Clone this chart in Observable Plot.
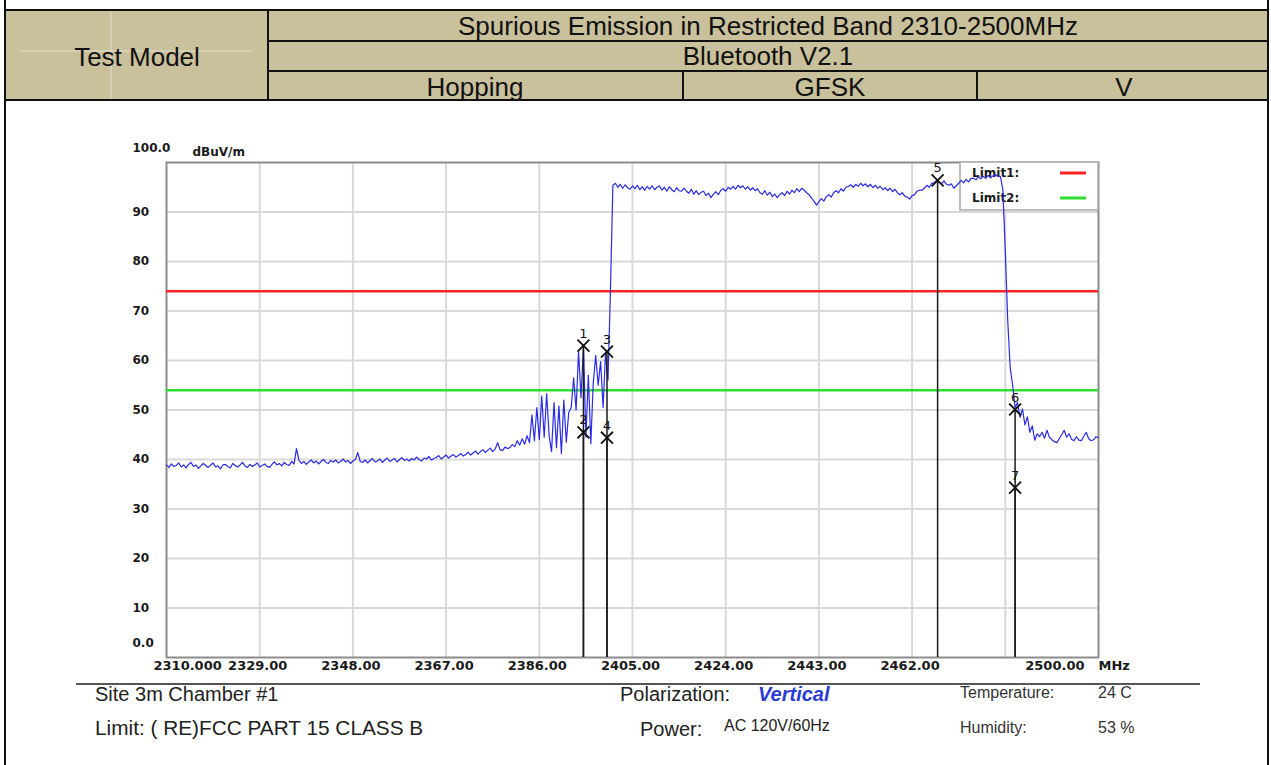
<!DOCTYPE html>
<html><head><meta charset="utf-8">
<script src="https://cdn.jsdelivr.net/npm/d3@7"></script>
<script src="https://cdn.jsdelivr.net/npm/@observablehq/plot@0.6"></script>
<style>
html,body{margin:0;padding:0;background:#fff;overflow:hidden}
#page{position:relative;width:1271px;height:765px}
#header,#caption{display:block}
#chart svg{display:block}
#borders{position:absolute;left:0;top:0;pointer-events:none}
.hd{font-family:"Liberation Sans",Arial,sans-serif;font-size:26px;fill:#111}
.cap{font-family:"Liberation Sans",Arial,sans-serif;fill:#222}
</style></head><body>
<div id="page">
<svg id="header" width="1271" height="101">
  <rect x="5" y="10" width="1263" height="91" fill="#c9c09c"/>
  <line x1="111" y1="11" x2="111" y2="100" stroke="#e4dfca" stroke-width="1"/>
  <line x1="20" y1="51" x2="253" y2="51" stroke="#e4dfca" stroke-width="1"/>
  <g stroke="#111" stroke-width="2">
    <line x1="4" y1="10" x2="1269" y2="10"/>
    <line x1="268" y1="41" x2="1268" y2="41"/>
    <line x1="268" y1="71" x2="1268" y2="71"/>
    <line x1="4" y1="100" x2="1269" y2="100"/>
    <line x1="268" y1="10" x2="268" y2="101"/>
    <line x1="683" y1="71" x2="683" y2="101"/>
    <line x1="977" y1="71" x2="977" y2="101"/>
  </g>
  <text class="hd" x="137" y="66" text-anchor="middle">Test Model</text>
  <text class="hd" x="768" y="35" text-anchor="middle">Spurious Emission in Restricted Band 2310-2500MHz</text>
  <text class="hd" x="768" y="65" text-anchor="middle">Bluetooth V2.1</text>
  <text class="hd" x="475" y="96" text-anchor="middle">Hopping</text>
  <text class="hd" x="830" y="96" text-anchor="middle">GFSK</text>
  <text class="hd" x="1124" y="96" text-anchor="middle">V</text>
</svg>
<div id="chart"></div>
<svg id="caption" width="1271" height="82">
  <line x1="76" y1="1" x2="1200" y2="1" stroke="#555" stroke-width="2"/>
  <text class="cap" x="95" y="18" font-size="20">Site  3m Chamber #1</text>
  <text class="cap" x="95" y="52" font-size="20.8">Limit: ( RE)FCC PART 15 CLASS B</text>
  <text class="cap" x="620" y="18" font-size="20">Polarization:</text>
  <text class="cap" x="758" y="18" font-size="20" font-weight="bold" font-style="italic" style="fill:#2a3bd6">Vertical</text>
  <text class="cap" x="640" y="53" font-size="20">Power:</text>
  <text class="cap" x="724" y="48" font-size="16">AC 120V/60Hz</text>
  <text class="cap" x="960" y="15" font-size="16" style="fill:#333">Temperature:</text>
  <text class="cap" x="1098" y="15" font-size="16" style="fill:#333">24 C</text>
  <text class="cap" x="960" y="50" font-size="16" style="fill:#333">Humidity:</text>
  <text class="cap" x="1098" y="50" font-size="16" style="fill:#333">53 %</text>
</svg>
<svg id="borders" width="1271" height="765">
  <line x1="5" y1="0" x2="5" y2="765" stroke="#111" stroke-width="2"/>
  <line x1="1268" y1="0" x2="1268" y2="765" stroke="#111" stroke-width="2"/>
</svg>
</div>
<script>
// ---- data ----
const sweepStart = 2310;     // MHz
const sweepStep = 0.5;       // MHz per trace point
const traceLevels = [
  38.9, 38.4, 39.1, 38.6, 38.8, 39.3, 38.5, 38.9, 38.3, 39.0,
  39.4, 38.6, 38.9, 38.2, 38.7, 39.2, 38.8, 38.4, 38.9, 39.3,
  38.5, 38.7, 38.1, 38.9, 39.0, 38.6, 38.3, 39.2, 38.8, 38.5,
  38.9, 39.4, 38.7, 38.4, 39.0, 38.6, 38.9, 39.3, 38.5, 38.8,
  39.1, 38.6, 38.4, 39.0, 39.5, 38.9, 39.2, 38.7, 39.4, 39.0,
  38.8, 39.6, 39.1, 42.2, 39.8, 39.2, 39.6, 39.0, 39.5, 39.9,
  39.3, 39.7, 39.1, 39.6, 40.0, 39.4, 39.2, 39.8, 39.5, 39.9,
  39.3, 39.6, 40.1, 39.5, 39.8, 39.2, 39.7, 40.0, 41.4, 39.6,
  39.4, 39.9, 39.3, 39.8, 40.2, 39.5, 39.7, 40.1, 39.4, 39.9,
  40.3, 39.6, 39.9, 40.2, 39.5, 40.0, 40.4, 39.8, 40.1, 39.7,
  40.2, 39.9, 40.5, 40.0, 39.7, 40.3, 40.1, 40.6, 39.9, 40.2,
  40.4, 40.8, 40.1, 40.5, 40.9, 40.3, 40.7, 41.0, 40.5, 40.8,
  41.2, 40.7, 41.0, 41.5, 40.9, 41.3, 41.7, 41.1, 41.6, 42.0,
  41.4, 41.9, 42.3, 41.6, 42.1, 43.4, 42.0, 41.8, 42.5, 42.2,
  42.4, 43.0, 42.6, 43.8, 42.9, 44.2, 43.1, 44.8, 43.4, 49.0,
  43.8, 50.5, 44.0, 52.8, 44.5, 53.3, 44.8, 41.6, 51.5, 42.4,
  50.8, 41.2, 52.0, 43.5, 49.5, 50.5, 56.5, 50.0, 61.8, 52.5,
  63.0, 44.5, 57.0, 43.2, 55.5, 61.0, 55.0, 59.8, 50.5, 61.5,
  56.0, 74.0, 95.4, 95.8, 95.0, 95.6, 94.8, 95.5, 94.9, 94.6,
  95.3, 94.7, 95.4, 94.5, 95.1, 94.4, 95.2, 94.6, 95.3, 94.5,
  95.0, 95.3, 94.4, 95.0, 94.2, 95.1, 94.5, 94.1, 94.9, 94.3,
  94.2, 94.8, 94.2, 93.8, 94.6, 93.6, 94.3, 93.5, 94.0, 94.2,
  93.3, 93.8, 92.9, 93.6, 94.1, 93.5, 94.4, 94.7, 94.2, 95.0,
  94.6, 95.2, 94.6, 95.4, 94.9, 95.3, 94.6, 95.1, 94.4, 94.9,
  94.3, 94.7, 93.9, 93.6, 94.3, 93.4, 94.0, 93.1, 93.6, 92.9,
  93.5, 93.9, 93.3, 94.2, 93.6, 94.4, 93.9, 94.7, 94.1, 94.8,
  94.4, 93.9, 93.5, 92.8, 92.2, 91.4, 92.1, 92.7, 92.2, 93.1,
  93.5, 93.0, 93.9, 94.3, 93.9, 94.7, 94.2, 95.0, 95.2, 95.5,
  95.0, 95.6, 95.2, 95.8, 95.3, 95.7, 95.1, 95.6, 94.9, 95.4,
  94.8, 95.2, 94.5, 94.9, 94.3, 94.8, 94.1, 94.6, 93.9, 93.5,
  93.9, 93.2, 93.0, 92.6, 93.3, 93.5, 94.2, 94.4, 94.4, 94.8,
  95.4, 95.0, 95.8, 95.9, 96.4, 96.0, 95.7, 96.3, 95.6, 95.4,
  95.7, 94.8, 95.3, 95.8, 96.4, 95.9, 96.6, 96.1, 96.8, 96.8,
  96.5, 97.1, 96.7, 97.2, 96.8, 97.4, 96.9, 97.3, 97.5, 97.2,
  97.2, 94.5, 82.0, 68.0, 58.5, 55.0, 50.5, 51.5, 48.5, 50.2,
  47.0, 48.6, 45.5, 46.8, 43.9, 45.2, 44.6, 45.5, 44.3, 45.9,
  44.5, 44.0, 43.6, 43.4, 44.2, 45.0, 45.9, 44.5, 45.2, 44.1,
  43.8, 44.6, 43.9, 43.8, 44.7, 45.5, 44.2, 43.8, 44.0, 44.6,
  44.4
];
const markerIds    = ["1", "2", "3", "4", "5", "6", "7"];
const markerFreqs  = [2395.0, 2395.0, 2399.8, 2399.8, 2467.2, 2483.0, 2483.0];
const markerLevels = [63.0, 45.5, 61.8, 44.4, 96.4, 50.1, 34.3];
const limitNames  = ["Limit1:", "Limit2:"];
const limitLevels = [74, 54];
const limitColors = ["#ff2222", "#2fdf2f"];
const xTickValues = [2310, 2329, 2348, 2367, 2386, 2405, 2424, 2443, 2462, 2500];
const xTickLabels = ["2310.000", "2329.00", "2348.00", "2367.00", "2386.00", "2405.00", "2424.00", "2443.00", "2462.00", "2500.00"];
const xGridValues = [2329, 2348, 2367, 2386, 2405, 2424, 2443, 2462, 2481];
const yTickValues = [0, 10, 20, 30, 40, 50, 60, 70, 80, 90, 100];
const yTickLabels = ["0.0", "10", "20", "30", "40", "50", "60", "70", "80", "90", "100.0"];
const yUnit = "dBuV/m";
const xUnit = "MHz";

// ---- tables ----
const trace = traceLevels.map((v, i) => ({f: sweepStart + i * sweepStep, v}));
const markers = markerIds.map((id, i) => ({id, f: markerFreqs[i], v: markerLevels[i]}));
const limits = limitNames.map((name, i) => ({name, v: limitLevels[i], color: limitColors[i]}));
const xTicks = xTickValues.map((v, i) => ({v, label: xTickLabels[i]}));
const yTicks = yTickValues.map((v, i) => ({v, label: yTickLabels[i]}));
const yInner = yTicks.slice(1, -1), yEnds = [yTicks[0], yTicks[yTicks.length - 1]];

const yFont = {fontFamily: "DejaVu Sans", fontWeight: "bold", fontSize: 12, fill: "#1a1a1a"};
const xFont = {fontFamily: "DejaVu Sans", fontWeight: "bold", fontSize: 13, fill: "#1a1a1a"};

function legendMark(index, scales, values, dimensions) {
  const {width, marginRight, marginTop} = dimensions;
  const right = width - marginRight;
  const g = d3.create("svg:g");
  g.append("rect").attr("x", right - 138).attr("y", marginTop).attr("width", 138).attr("height", 48)
    .attr("fill", "white").attr("stroke", "#ababab").attr("stroke-width", 1.5);
  limits.forEach((d, i) => {
    const cy = marginTop + 11 + 25 * i;
    g.append("text").attr("x", right - 126).attr("y", cy).attr("dy", "0.35em")
      .attr("text-anchor", "start")
      .attr("font-family", "DejaVu Sans").attr("font-weight", "bold").attr("font-size", 12)
      .attr("fill", "#1a1a1a").text(d.name);
    g.append("line").attr("x1", right - 38).attr("x2", right - 12).attr("y1", cy).attr("y2", cy)
      .attr("stroke", d.color).attr("stroke-width", 3);
  });
  return g.node();
}

const chart = Plot.plot({
  width: 1271,
  height: 582,
  marginLeft: 166,
  marginRight: 173,
  marginTop: 61,
  marginBottom: 26,
  x: {domain: [2310, 2500], axis: null},
  y: {domain: [0, 100], axis: null},
  style: {background: "transparent", overflow: "visible", fontFamily: "DejaVu Sans"},
  marks: [
    Plot.ruleX(xGridValues, {stroke: "#d9d9d9", strokeWidth: 2}),
    Plot.ruleY(yTickValues.slice(1, -1), {stroke: "#d9d9d9", strokeWidth: 2}),
    Plot.frame({stroke: "#8c8c8c", strokeWidth: 2}),
    Plot.ruleY(limits, {y: "v", stroke: "color", strokeWidth: 2.5}),
    legendMark,
    Plot.line(trace, {x: "f", y: "v", stroke: "#2b2be6", strokeWidth: 1.2}),
    Plot.ruleX(markers, {x: "f", y1: 0, y2: "v", stroke: "#1a1a1a", strokeWidth: 1.5}),
    Plot.dot(markers, {x: "f", y: "v", symbol: "times", r: 5.5, stroke: "#111", strokeWidth: 1.8}),
    Plot.text(markers, {x: "f", y: "v", text: "id", dy: -12, fontFamily: "DejaVu Sans", fontSize: 13, fill: "#111"}),
    // x tick labels
    Plot.text(xTicks.slice(1, -1), {x: "v", text: "label", frameAnchor: "bottom", dy: 12, dx: -2, ...xFont}),
    Plot.text(xTicks.slice(0, 1), {x: "v", text: "label", frameAnchor: "bottom", dy: 12, dx: -13, textAnchor: "start", ...xFont}),
    Plot.text(xTicks.slice(-1), {x: "v", text: "label", frameAnchor: "bottom", dy: 12, dx: -14, textAnchor: "end", ...xFont}),
    Plot.text([xUnit], {frameAnchor: "bottom-right", dy: 12, dx: 0, textAnchor: "start", ...xFont}),
    // y tick labels
    Plot.text(yInner, {y: "v", text: "label", frameAnchor: "left", textAnchor: "start", dx: -34, ...yFont}),
    Plot.text(yEnds, {y: "v", text: "label", frameAnchor: "left", textAnchor: "start", dx: -34, dy: -14, ...yFont}),
    Plot.text([yUnit], {frameAnchor: "top-left", textAnchor: "start", dx: 26, dy: -15, ...yFont})
  ]
});
document.getElementById("chart").appendChild(chart);
</script>
</body></html>
